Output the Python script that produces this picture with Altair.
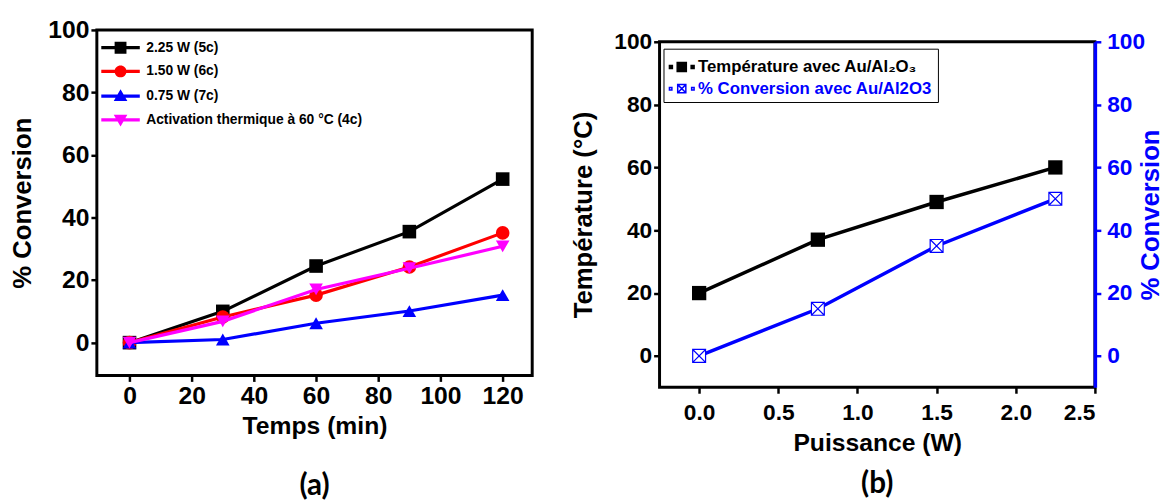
import altair as alt
import pandas as pd

# ---------------- data: panel (a) ----------------
time_min = [0, 30, 60, 90, 120]
series_a = ["2.25 W  (5c)", "1.50 W  (6c)", "0.75 W  (7c)", "Activation thermique à 60 °C  (4c)"]
conv_225w = [0, 10, 24.5, 35.5, 52.3]
conv_150w = [0, 8.2, 15.2, 24.2, 35.1]
conv_075w = [0, 1, 6.2, 10.1, 15.2]
conv_thermal = [0, 6.8, 17, 23.8, 30.8]

# ---------------- data: panel (b) ----------------
power_w = [0.0, 0.75, 1.5, 2.25]
temperature_c = [20, 37, 49, 60]
conversion_pct = [0, 15, 35, 50]
series_b = ["Température avec Au/Al₂O₃", "% Conversion avec Au/Al2O3"]

# ---------------- styles ----------------
colors_a = ["#000000", "#ff0000", "#0000ff", "#ff00ff"]
shapes_a = ["square", "circle", "triangle-up", "triangle-down"]
LINE = "M-3.25,-0.27H3.25V0.27H-3.25Z "
legend_paths_a = [
    LINE + "M-1,-1H1V1H-1Z",
    LINE + "M1,0A1,1 0 1,1 -1,0A1,1 0 1,1 1,0Z",
    LINE + "M0,-1.15L1.15,0.85L-1.15,0.85Z",
    LINE + "M0,1.15L-1.15,-0.85L1.15,-0.85Z",
]
XBOX = "M-1,-1H1V1H-1Z M-1,-1L1,1 M1,-1L-1,1"
legend_paths_b = [
    "M-1,-0.12H-0.76V0.12H-1Z M-0.37,-0.37H0.37V0.37H-0.37Z M0.76,-0.12H1V0.12H0.76Z",
    "M-1,-0.1H-0.8V0.1H-1Z M-0.33,-0.33H0.33V0.33H-0.33Z M-0.33,-0.33L0.33,0.33 M0.33,-0.33L-0.33,0.33 M0.8,-0.1H1V0.1H0.8Z",
]

FONT = "Liberation Sans"

# ---------------- panel (a) ----------------
rows = []
for s, vals in zip(series_a, [conv_225w, conv_150w, conv_075w, conv_thermal]):
    for t, v in zip(time_min, vals):
        rows.append({"series": s, "time": t, "conv": v})
df_a = pd.DataFrame(rows)

x_a = alt.X("time:Q", scale=alt.Scale(domain=[-10.5, 129.5], nice=False, zero=False),
            axis=alt.Axis(values=[0, 20, 40, 60, 80, 100, 120], title="Temps (min)",
                          labelFontSize=25, titleFontSize=25, titlePadding=6, labelPadding=2))
y_a = alt.Y("conv:Q", scale=alt.Scale(domain=[-10.5, 100], nice=False, zero=False),
            axis=alt.Axis(values=[0, 20, 40, 60, 80, 100], title="% Conversion",
                          labelFontSize=25, titleFontSize=26, titlePadding=12, labelPadding=2))

layers_a = []
for s, c, sh in zip(series_a, colors_a, shapes_a):
    base = alt.Chart(df_a).transform_filter(alt.datum.series == s)
    layers_a.append(base.mark_line(color=c, strokeWidth=3.2).encode(x=x_a, y=y_a))
    layers_a.append(base.mark_point(color=c, filled=True, shape=sh, size=190, opacity=1).encode(x=x_a, y=y_a))

leg_a = alt.Legend(title=None, orient="none", legendX=17, legendY=11,
                   symbolSize=144, symbolOpacity=1, labelOffset=19,
                   labelFont=FONT, labelFontWeight="bold", labelFontSize=14,
                   labelColor="black", rowPadding=6, labelLimit=400)
legend_a = alt.Chart(df_a).mark_point(filled=True, opacity=0).encode(
    x=x_a, y=y_a,
    color=alt.Color("series:N", scale=alt.Scale(domain=series_a, range=colors_a), legend=leg_a),
    shape=alt.Shape("series:N", scale=alt.Scale(domain=series_a, range=legend_paths_a), legend=leg_a),
)

panel_a = alt.layer(*layers_a, legend_a).properties(
    width=441, height=350,
    title=alt.TitleParams("(a)", orient="bottom", font="Lato", fontSize=30, fontWeight="bold",
                          color="black", offset=33),
)

# ---------------- panel (b) ----------------
df_b = pd.DataFrame({"power": power_w, "temp": temperature_c, "conv": conversion_pct})
df_leg_b = pd.DataFrame({"series": series_b, "power": [0.0, 0.0], "temp": [20, 20]})

x_axis_b = alt.Axis(values=[0, 0.5, 1, 1.5, 2, 2.5], format=".1f", title="Puissance (W)",
                    labelFontSize=23, titleFontSize=25, titlePadding=6, labelPadding=9)
x_scale_b = alt.Scale(domain=[-0.25, 2.5], nice=False, zero=False)
y_scale_b = alt.Scale(domain=[-10, 100], nice=False, zero=False)

y_left = alt.Y("temp:Q", scale=y_scale_b,
               axis=alt.Axis(values=[0, 20, 40, 60, 80, 100], title="Température (°C)",
                             labelFontSize=23, titleFontSize=26, titlePadding=18, labelPadding=2))
y_right = alt.Y("conv:Q", scale=y_scale_b,
                axis=alt.Axis(orient="right", values=[0, 20, 40, 60, 80, 100], title="% Conversion",
                              titleAngle=270, labelFontSize=23, titleFontSize=26, titlePadding=19,
                              labelPadding=6, labelColor="blue", titleColor="blue", tickColor="blue",
                              domain=True, domainColor="blue", domainWidth=3.5))

temp_line = alt.Chart(df_b).mark_line(color="black", strokeWidth=3.5).encode(
    x=alt.X("power:Q", scale=x_scale_b, axis=x_axis_b), y=y_left)
temp_pts = alt.Chart(df_b).mark_point(shape="square", filled=True, color="black", size=210, opacity=1).encode(
    x=alt.X("power:Q", scale=x_scale_b, axis=x_axis_b), y=y_left)
leg_b = alt.Legend(title=None, orient="none", legendX=4, legendY=19,
                   symbolSize=625, symbolOpacity=1, labelOffset=3,
                   labelFont=FONT, labelFontWeight="bold", labelFontSize=17,
                   labelColor={"expr": "datum.index == 0 ? 'black' : 'blue'"},
                   rowPadding=0, padding=5, strokeColor="black", fillColor="white", labelLimit=400)
legend_b = alt.Chart(df_leg_b).mark_point(opacity=0, strokeWidth=1.2).encode(
    x=alt.X("power:Q", scale=x_scale_b, axis=x_axis_b),
    y=alt.Y("temp:Q", scale=y_scale_b),
    fill=alt.Fill("series:N", scale=alt.Scale(domain=series_b, range=["black", "white"]), legend=leg_b),
    stroke=alt.Stroke("series:N", scale=alt.Scale(domain=series_b, range=["black", "blue"]), legend=leg_b),
    shape=alt.Shape("series:N", scale=alt.Scale(domain=series_b, range=legend_paths_b), legend=leg_b),
)
conv_line = alt.Chart(df_b).mark_line(color="blue", strokeWidth=3.5).encode(
    x=alt.X("power:Q", scale=x_scale_b, axis=x_axis_b), y=y_right)
conv_pts = alt.Chart(df_b).mark_point(shape=XBOX, filled=False, fill="white", stroke="blue",
                                      strokeWidth=1.2, size=170, opacity=1).encode(
    x=alt.X("power:Q", scale=x_scale_b, axis=x_axis_b), y=y_right)

group_temp = alt.layer(temp_line, temp_pts, legend_b)
group_conv = alt.layer(conv_line, conv_pts)
panel_b = alt.layer(group_temp, group_conv).resolve_scale(y="independent").properties(
    width=441, height=350,
    title=alt.TitleParams("(b)", orient="bottom", font="Lato", fontSize=30, fontWeight="bold",
                          color="black", offset=14),
)

spacer = alt.Chart(pd.DataFrame({"v": [0]})).mark_point(opacity=0).encode(
    x=alt.value(0), y=alt.value(0)
).properties(width=441, height=12, view=alt.ViewBackground(strokeOpacity=0))
panel_b_wrap = alt.vconcat(spacer, panel_b, spacing=0, bounds="flush")

chart = alt.hconcat(panel_a, panel_b_wrap, spacing=35).resolve_scale(
    color="independent", shape="independent", fill="independent", stroke="independent"
).resolve_legend(
    color="independent", shape="independent", fill="independent", stroke="independent"
).properties(
    padding={"left": 0, "top": 5, "right": 0, "bottom": 0}
).configure_view(
    stroke="black", strokeWidth=3
).configure_axis(
    labelFont=FONT, titleFont=FONT, labelFontWeight="bold", titleFontWeight="bold",
    labelColor="black", titleColor="black", tickColor="black", tickSize=6, tickWidth=2.5,
    domain=False, grid=False,
)

chart.save("out.html", embed_options={"renderer": "svg", "actions": False})
